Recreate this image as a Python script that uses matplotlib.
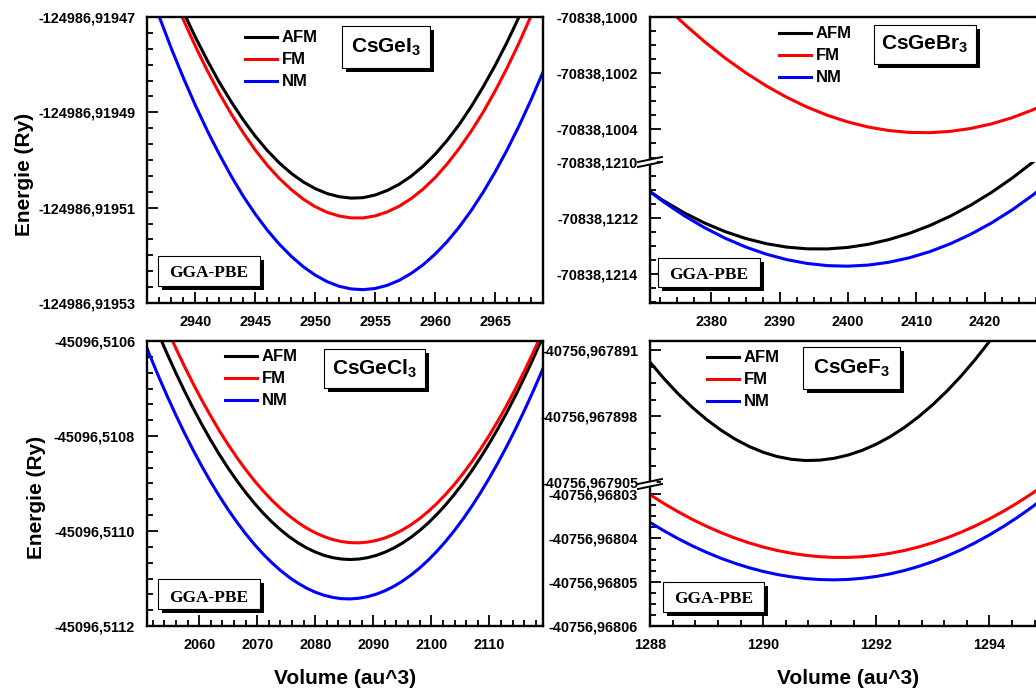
import numpy as np
import matplotlib
matplotlib.use("Agg")
import matplotlib.pyplot as plt
from matplotlib.ticker import FixedLocator, AutoMinorLocator, FuncFormatter
from matplotlib.lines import Line2D
from matplotlib.patches import Rectangle

# ---------------- data (energies in micro-Ry relative to a reference) ----------------
labels = ["AFM", "FM", "NM"]
colors = ["black", "red", "blue"]

# CsGeI3
V_I = [2936, 2937, 2938, 2939, 2940, 2941, 2942, 2943, 2944, 2945, 2946, 2947,
       2948, 2949, 2950, 2951, 2952, 2953, 2954, 2955, 2956, 2957, 2958, 2959,
       2960, 2961, 2962, 2963, 2964, 2965, 2966, 2967, 2968, 2969, 2970]
E0_I = -124986.91950
afm_I = [49.4, 42.9, 36.8, 31.1, 25.8, 20.9, 16.3, 12.2, 8.4, 5.0, 2.0, -0.6,
         -2.8, -4.6, -6.0, -7.05, -7.7, -8.0, -7.9, -7.35, -6.4, -5.1, -3.4, -1.3,
         1.2, 4.1, 7.4, 11.15, 15.3, 19.8, 24.7, 30.0, 35.7, 41.8, 48.3]
fm_I = [48.4, 41.7, 35.4, 29.45, 23.9, 18.75, 14.0, 9.65, 5.7, 2.1, -1.1, -3.85,
        -6.2, -8.2, -9.8, -10.98, -11.75, -12.15, -12.15, -11.73, -10.9, -9.7, -8.1,
        -6.1, -3.7, -0.85, 2.4, 6.0, 10.0, 14.45, 19.3, 24.55, 30.2, 36.25, 42.7]
nm_I = [37.0, 30.0, 23.4, 17.25, 11.5, 6.15, 1.2, -3.4, -7.6, -11.35, -14.7, -17.65,
        -20.2, -22.38, -24.15, -25.53, -26.5, -27.05, -27.2, -26.95, -26.3, -25.25,
        -23.8, -21.98, -19.75, -17.13, -14.1, -10.65, -6.8, -2.55, 2.1, 7.15, 12.6,
        18.45, 24.7]

# CsGeBr3
V_Br = [2370, 2373, 2376, 2379, 2382, 2385, 2388, 2391, 2394, 2397, 2400, 2403,
        2406, 2409, 2412, 2415, 2418, 2421, 2424, 2427, 2430]
E0_Br = -70838.1000
afm_Br = [-21089.5, -21138.1, -21180.7, -21217.3, -21247.8, -21272.2, -21290.6,
          -21302.9, -21309.1, -21309.4, -21304.0, -21292.9, -21276.2, -21253.9,
          -21226.0, -21192.5, -21153.3, -21108.5, -21058.1, -21002.1, -20940.5]
fm_Br = [119.5, 44.6, -24.7, -88.2, -146.1, -198.2, -244.7, -285.5, -320.6, -350.0,
         -373.7, -391.8, -404.1, -410.7, -411.7, -406.9, -396.5, -380.4, -358.6,
         -331.1, -297.9]
nm_Br = [-21087.3, -21142.1, -21191.0, -21234.0, -21271.2, -21302.5, -21327.9,
         -21347.4, -21361.1, -21369.0, -21370.9, -21366.9, -21356.9, -21340.9,
         -21319.0, -21291.0, -21257.0, -21217.1, -21171.1, -21119.2, -21061.2]

# CsGeCl3
V_Cl = [2050, 2051.5, 2053, 2054.5, 2056, 2057.5, 2059, 2060.5, 2062, 2063.5, 2065,
        2066.5, 2068, 2069.5, 2071, 2072.5, 2074, 2075.5, 2077, 2078.5, 2080, 2081.5,
        2083, 2084.5, 2086, 2087.5, 2089, 2090.5, 2092, 2093.5, 2095, 2096.5, 2098,
        2099.5, 2101, 2102.5, 2104, 2105.5, 2107, 2108.5, 2110, 2111.5, 2113, 2114.5,
        2116, 2117.5, 2119, 2120.5, 2122]
E0_Cl = -45096.5106
afm_Cl = [104.4, 58.4, 14.3, -27.8, -68.0, -106.2, -142.5, -176.8, -209.2, -239.5,
          -267.9, -294.4, -318.9, -341.4, -362.0, -380.6, -397.3, -412.0, -424.7,
          -435.5, -444.3, -451.2, -456.1, -459.0, -460.0, -459.1, -456.2, -451.4,
          -444.7, -436.1, -425.6, -413.2, -398.9, -382.7, -364.5, -344.5, -322.5,
          -298.6, -272.8, -245.1, -215.5, -184.0, -150.5, -115.2, -77.9, -38.8, 2.3,
          45.3, 90.2]
fm_Cl = [157.2, 111.1, 66.9, 24.5, -15.9, -54.4, -91.0, -125.7, -158.5, -189.4,
         -218.4, -245.5, -270.7, -294.0, -315.4, -334.9, -352.4, -368.1, -381.9,
         -393.8, -403.7, -411.8, -417.9, -422.2, -424.5, -424.9, -423.4, -420.0,
         -414.6, -407.3, -398.0, -386.8, -373.7, -358.6, -341.5, -322.5, -301.6,
         -278.7, -253.9, -227.2, -198.5, -167.8, -135.2, -100.7, -64.2, -25.8, 14.6,
         56.9, 101.2]
nm_Cl = [15.2, -30.7, -74.7, -116.6, -156.6, -194.7, -230.8, -264.9, -297.0, -327.1,
         -355.3, -381.5, -405.8, -428.0, -448.3, -466.6, -483.0, -497.4, -509.8,
         -520.3, -528.8, -535.3, -539.8, -542.4, -543.0, -541.6, -538.3, -533.1,
         -525.9, -516.8, -505.7, -492.7, -477.8, -460.9, -442.1, -421.4, -398.7,
         -374.1, -347.5, -319.0, -288.5, -256.1, -221.8, -185.5, -147.3, -107.2,
         -65.1, -21.1, 24.9]

# CsGeF3
V_F = [1288.0, 1288.25, 1288.5, 1288.75, 1289.0, 1289.25, 1289.5, 1289.75, 1290.0,
       1290.25, 1290.5, 1290.75, 1291.0, 1291.25, 1291.5, 1291.75, 1292.0, 1292.25,
       1292.5, 1292.75, 1293.0, 1293.25, 1293.5, 1293.75, 1294.0, 1294.25, 1294.5,
       1294.75, 1295.0]
E0_F = -40756.96790
afm_F = [7.75, 5.98, 4.37, 2.93, 1.65, 0.54, -0.42, -1.21, -1.83, -2.29, -2.58, -2.71,
         -2.67, -2.48, -2.13, -1.63, -0.97, -0.16, 0.82, 1.95, 3.24, 4.68, 6.28, 8.04,
         9.95, 12.02, 14.24, 16.63, 19.17]
fm_F = [-130.15, -132.19, -134.06, -135.79, -137.35, -138.76, -140.01, -141.11,
        -142.05, -142.84, -143.46, -143.94, -144.25, -144.41, -144.41, -144.26,
        -143.94, -143.47, -142.83, -142.03, -141.07, -139.96, -138.68, -137.25,
        -135.65, -133.90, -131.98, -129.91, -127.67]
nm_F = [-136.45, -138.39, -140.17, -141.80, -143.27, -144.59, -145.74, -146.75,
        -147.60, -148.30, -148.83, -149.22, -149.44, -149.51, -149.42, -149.16,
        -148.74, -148.14, -147.38, -146.45, -145.36, -144.10, -142.67, -141.07,
        -139.30, -137.37, -135.27, -133.00, -130.57]

# ticks
yt_I = [-124986.91947, -124986.91949, -124986.91951, -124986.91953]
yt_Br_up = [-70838.1000, -70838.1002, -70838.1004]
yt_Br_lo = [-70838.1210, -70838.1212, -70838.1214]
yt_Cl = [-45096.5106, -45096.5108, -45096.5110, -45096.5112]
yt_F_up = [-40756.967891, -40756.967898, -40756.967905]
yt_F_lo = [-40756.96803, -40756.96804, -40756.96805, -40756.96806]
xt_I = [2940, 2945, 2950, 2955, 2960, 2965]
xt_Br = [2380, 2390, 2400, 2410, 2420]
xt_Cl = [2060, 2070, 2080, 2090, 2100, 2110]
xt_F = [1288, 1290, 1292, 1294]

titles = ["CsGeI$_3$", "CsGeBr$_3$", "CsGeCl$_3$", "CsGeF$_3$"]
method = "GGA-PBE"
ylabel = "Energie (Ry)"
xlabel = "Volume (au^3)"

# ---------------- style ----------------
plt.rcParams["font.family"] = ["Liberation Sans", "DejaVu Sans"]
plt.rcParams["font.weight"] = "bold"
plt.rcParams["mathtext.fontset"] = "custom"
plt.rcParams["mathtext.rm"] = "Liberation Sans:bold"
plt.rcParams["mathtext.it"] = "Liberation Sans:bold"
plt.rcParams["mathtext.bf"] = "Liberation Sans:bold"

W, H = 1036, 691
fig = plt.figure(figsize=(W / 100, H / 100), dpi=100)


def fx(px):
    return px / W


def fy(py):
    return 1 - py / H


def rect(x0, y0, x1, y1):
    return [fx(x0), fy(y1), (x1 - x0) / W, (y1 - y0) / H]


def energies(E0, vals):
    return E0 + np.asarray(vals) * 1e-6


def style(ax, xticks, yticks, xminor, yminor, ydec, show_x=True):
    for s in ax.spines.values():
        s.set_linewidth(1.7)
    ax.tick_params(which="both", direction="in", top=False, right=False,
                   width=1.3, labelsize=10.4)
    ax.tick_params(which="major", length=8)
    ax.tick_params(which="minor", length=4)
    ax.tick_params(axis="y", pad=8.5)
    ax.tick_params(axis="x", pad=8.5)
    ax.xaxis.set_major_locator(FixedLocator(xticks))
    ax.xaxis.set_minor_locator(AutoMinorLocator(xminor))
    ax.yaxis.set_major_locator(FixedLocator(yticks))
    ax.yaxis.set_minor_locator(AutoMinorLocator(yminor))
    ax.yaxis.set_major_formatter(
        FuncFormatter(lambda v, p, d=ydec: f"{v:.{d}f}".replace(".", ",")))
    if not show_x:
        ax.tick_params(axis="x", which="both", bottom=False, labelbottom=False)


def draw_curves(ax, V, E0, series):
    lines = []
    for vals, c, lab in zip(series, colors, labels):
        ln, = ax.plot(V, energies(E0, vals), color=c, lw=2.2, label=lab)
        lines.append(ln)
    return lines


def add_legend(ax, handles, x_px, y_px):
    ax.legend(handles, labels, loc="upper left",
              bbox_to_anchor=(fx(x_px), fy(y_px)), bbox_transform=fig.transFigure,
              frameon=False, borderpad=0, borderaxespad=0, handlelength=1.92,
              handletextpad=0.3, labelspacing=0.42,
              prop={"size": 12, "weight": "bold"})


def tag(x0, y0, x1, y1, text, tx, ty, size, family):
    w, h = (x1 - x0) / W, (y1 - y0) / H
    fig.add_artist(Rectangle((fx(x0 + 4), fy(y1 + 4)), w, h, transform=fig.transFigure,
                             facecolor="black", edgecolor="black", lw=0, zorder=5))
    fig.add_artist(Rectangle((fx(x0), fy(y1)), w, h, transform=fig.transFigure,
                             facecolor="white", edgecolor="black", lw=0.8, zorder=6))
    fig.text(fx(tx), fy(ty), text, ha="center", va="baseline", fontsize=size,
             family=family, weight="bold", zorder=7)


def break_marks(yc):
    fig.add_artist(Line2D([fx(645), fx(655)], [fy(yc + 1), fy(yc - 1)],
                          transform=fig.transFigure, color="white", lw=2.5, zorder=8))
    for dy in (-2.5, 2.5):
        fig.add_artist(Line2D([fx(638), fx(662)], [fy(yc + dy + 2.5), fy(yc + dy - 2.5)],
                              transform=fig.transFigure, color="black", lw=1.4,
                              zorder=9))


# ---------------- panel 1 : CsGeI3 ----------------
ax1 = fig.add_axes(rect(147, 17, 543, 303))
l1 = draw_curves(ax1, V_I, E0_I, [afm_I, fm_I, nm_I])
ax1.set_xlim(2935.97, 2969.0)
ax1.set_ylim(yt_I[-1], yt_I[0])
style(ax1, xt_I, yt_I, 5, 6, 5)
ax1.set_ylabel(ylabel, fontsize=15, weight="bold", va="center")
ax1.yaxis.set_label_coords(fx(25), fy(174), transform=fig.transFigure)
add_legend(ax1, l1, 245, 30.5)

# ---------------- panel 2 : CsGeBr3 (broken axis) ----------------
ax2u = fig.add_axes(rect(650, 17, 1046, 162))
ax2l = fig.add_axes(rect(650, 162, 1046, 303))
draw_curves(ax2u, V_Br, E0_Br, [afm_Br, fm_Br, nm_Br])
l2 = draw_curves(ax2l, V_Br, E0_Br, [afm_Br, fm_Br, nm_Br])
for a in (ax2u, ax2l):
    a.set_xlim(2371.0, 2429.0)
ax2u.set_ylim(-70838.100516, -70838.1000)
ax2l.set_ylim(-70838.121502, -70838.1210)
style(ax2u, xt_Br, yt_Br_up, 4, 4, 4, show_x=False)
style(ax2l, xt_Br, yt_Br_lo, 4, 4, 4)
ax2u.spines["bottom"].set_visible(False)
ax2l.spines["top"].set_visible(False)
add_legend(ax2u, l2, 779, 26.5)
break_marks(162)

# ---------------- panel 3 : CsGeCl3 ----------------
ax3 = fig.add_axes(rect(147, 341, 543, 626))
l3 = draw_curves(ax3, V_Cl, E0_Cl, [afm_Cl, fm_Cl, nm_Cl])
ax3.set_xlim(2051.0, 2119.25)
ax3.set_ylim(yt_Cl[-1], yt_Cl[0])
style(ax3, xt_Cl, yt_Cl, 5, 6, 4)
ax3.set_ylabel(ylabel, fontsize=15, weight="bold", va="center")
ax3.yaxis.set_label_coords(fx(36), fy(497.5), transform=fig.transFigure)
ax3.set_xlabel(xlabel, fontsize=15, weight="bold", va="center")
ax3.xaxis.set_label_coords(fx(345), fy(678.5), transform=fig.transFigure)
add_legend(ax3, l3, 225, 349.5)

# ---------------- panel 4 : CsGeF3 (broken axis) ----------------
ax4u = fig.add_axes(rect(650, 341, 1046, 483))
ax4l = fig.add_axes(rect(650, 483, 1046, 626))
draw_curves(ax4u, V_F, E0_F, [afm_F, fm_F, nm_F])
l4 = draw_curves(ax4l, V_F, E0_F, [afm_F, fm_F, nm_F])
for a in (ax4u, ax4l):
    a.set_xlim(1288.0, 1295.0)
ax4u.set_ylim(-40756.9679051, -40756.96789)
ax4l.set_ylim(-40756.96806, -40756.9680275)
style(ax4u, xt_F, yt_F_up, 5, 4, 6, show_x=False)
style(ax4l, xt_F, yt_F_lo, 5, 4, 5)
ax4u.spines["bottom"].set_visible(False)
ax4l.spines["top"].set_visible(False)
ax4l.set_xlabel(xlabel, fontsize=15, weight="bold", va="center")
ax4l.xaxis.set_label_coords(fx(848), fy(678.5), transform=fig.transFigure)
add_legend(ax4u, l4, 707, 350.5)
break_marks(484)

# ---------------- title and method boxes ----------------
sans = ["Liberation Sans", "DejaVu Sans"]
tag(342, 26, 430, 68, titles[0], 386, 53, 15, sans)
tag(874, 25, 976, 64, titles[1], 925, 49.3, 15, sans)
tag(324, 349, 425, 388, titles[2], 374.5, 374.3, 15, sans)
tag(803, 347, 900, 389, titles[3], 851.5, 373.3, 15, sans)

serif = ["Liberation Serif", "DejaVu Serif"]
tag(158, 256, 260, 286, method, 209, 277.3, 12.5, serif)
tag(658, 258, 760, 287, method, 709, 279.3, 12.5, serif)
tag(158, 579, 260, 609, method, 209, 601.7, 12.5, serif)
tag(663, 582, 764, 612, method, 713.5, 603.3, 12.5, serif)

fig.savefig("out.png", dpi=100)
